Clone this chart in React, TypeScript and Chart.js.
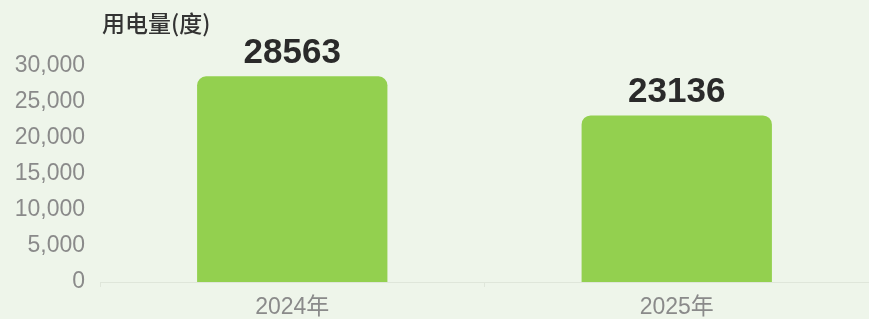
import React, { useEffect, useRef } from "react";
import { Chart, registerables } from "chart.js";

Chart.register(...registerables);

const categories = ["2024年", "2025年"];
const usage = [28563, 23136];
const yTicks = [0, 5000, 10000, 15000, 20000, 25000, 30000];
const yTitle = "用电量(度)";

const FONT = '"Liberation Sans", "Noto Sans CJK SC", sans-serif';

export default function App() {
  const ref = useRef<HTMLCanvasElement | null>(null);

  useEffect(() => {
    document.body.style.margin = "0";
    const canvas = ref.current!;
    const labelsPlugin = {
      id: "extras",
      afterDatasetsDraw(chart: any) {
        const ctx = chart.ctx;
        ctx.save();
        const meta = chart.getDatasetMeta(0);
        ctx.fillStyle = "#2a2a2a";
        ctx.font = `bold 35px ${FONT}`;
        ctx.textAlign = "center";
        ctx.textBaseline = "alphabetic";
        meta.data.forEach((el: any, i: number) => {
          ctx.fillText(String(usage[i]), el.x, el.y - 13);
        });
        ctx.fillStyle = "#333333";
        ctx.font = `500 23px "Noto Sans CJK SC", ${FONT}`;
        ctx.textAlign = "left";
        ctx.textBaseline = "middle";
        ctx.fillText(yTitle, 102, 23);
        ctx.restore();
      },
    };
    const chart = new Chart(canvas, {
      type: "bar",
      data: {
        labels: categories,
        datasets: [
          {
            data: usage,
            backgroundColor: "#93d04f",
            borderRadius: { topLeft: 9, topRight: 9, bottomLeft: 0, bottomRight: 0 },
            borderSkipped: "start",
            barPercentage: 0.495,
            categoryPercentage: 1,
          },
        ],
      },
      options: {
        animation: false,
        responsive: false,
        maintainAspectRatio: false,
        layout: { padding: { top: 66, right: 0, left: 0, bottom: 0 } },
        plugins: { legend: { display: false }, tooltip: { enabled: false } },
        scales: {
          x: {
            afterFit: (s: any) => {
              s.height = 37;
            },
            grid: {
              display: true,
              drawOnChartArea: false,
              drawTicks: true,
              tickLength: 5,
              color: "#dfe6da",
              offset: true,
            },
            border: { display: true, color: "#dfe6da" },
            ticks: { color: "#8a8a8a", font: { family: FONT, size: 23 }, padding: 7 },
          },
          y: {
            min: 0,
            max: 30000,
            afterFit: (s: any) => {
              s.width = 100;
            },
            afterBuildTicks: (s: any) => {
              s.ticks = yTicks.map((v) => ({ value: v }));
            },
            grid: { display: false },
            border: { display: false },
            ticks: {
              color: "#8a8a8a",
              font: { family: FONT, size: 23 },
              padding: 7,
              callback: (v: any) => Number(v).toLocaleString("en-US"),
            },
          },
        },
      },
      plugins: [labelsPlugin],
    });
    return () => chart.destroy();
  }, []);

  return (
    <div style={{ width: 869, height: 319, background: "#eef5ea" }}>
      <canvas ref={ref} width={869} height={319} style={{ display: "block" }} />
    </div>
  );
}
